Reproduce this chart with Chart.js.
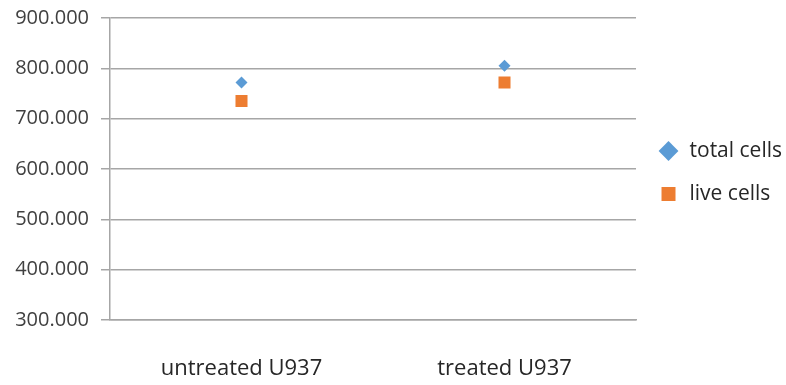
<!DOCTYPE html>
<html>
<head>
<meta charset="utf-8">
<script src="https://cdn.jsdelivr.net/npm/chart.js@4/dist/chart.umd.min.js"></script>
<style>
    html, body { margin: 0; padding: 0; background: #ffffff; }
    #wrap { width: 786px; height: 385px; }
</style>
</head>
<body>
<div id="wrap"><canvas id="grafica"></canvas></div>
<script>
// valores
var categorias = ["untreated U937", "treated U937"];
var totalCells = [772000, 805000];
var liveCells = [735000, 772000];
var yMin = 300000;
var yMax = 900000;
var yPaso = 100000;

var gris = "#a6a6a6";
var fuente = "'Open Sans', sans-serif";

function ceros(v) {
    // 900000 -> 900.000
    return String(v).replace(/\B(?=(\d{3})+(?!\d))/g, ".");
}

// sube un poco la leyenda, como en Excel
var subirLeyenda = {
    id: "subirLeyenda",
    afterLayout: function (chart) {
        chart.legend.top -= 20;
        chart.legend.bottom -= 20;
    }
};

var grafica = new Chart(document.getElementById("grafica"), {
    type: "line",
    data: {
        labels: categorias,
        datasets: [
            {
                label: "total cells",
                data: totalCells,
                showLine: false,
                pointStyle: "rectRot",
                pointRadius: 6,
                pointHoverRadius: 6,
                backgroundColor: "#5b9bd5",
                borderColor: "#5b9bd5",
                borderWidth: 0
            },
            {
                label: "live cells",
                data: liveCells,
                showLine: false,
                pointStyle: "rect",
                pointRadius: 8.5,
                pointHoverRadius: 8.5,
                backgroundColor: "#ed7d31",
                borderColor: "#ed7d31",
                borderWidth: 0
            }
        ]
    },
    plugins: [subirLeyenda],
    options: {
        responsive: true,
        maintainAspectRatio: false,
        animation: false,
        layout: {
            padding: { top: 0, right: -6, bottom: 0, left: 0 }
        },
        plugins: {
            tooltip: { enabled: false },
            legend: {
                position: "right",
                labels: {
                    usePointStyle: true,
                    boxHeight: 14,
                    padding: 22,
                    color: "#262626",
                    font: { family: fuente, size: 21 }
                }
            }
        },
        scales: {
            x: {
                offset: true,
                grid: { display: false, drawTicks: false },
                border: { display: true, color: gris, width: 1.5 },
                ticks: {
                    color: "#262626",
                    padding: 36,
                    maxRotation: 0,
                    font: { family: fuente, size: 22 }
                },
                afterFit: function (scale) { scale.height = 65; }
            },
            y: {
                min: yMin,
                max: yMax,
                grid: { color: gris, lineWidth: 1.5, tickLength: 9 },
                border: { display: true, color: gris, width: 1.5 },
                ticks: {
                    stepSize: yPaso,
                    color: "#404040",
                    padding: 12,
                    font: { family: fuente, size: 20 },
                    callback: function (v) { return ceros(v); }
                },
                afterFit: function (scale) {
                    scale.width = 110;
                    scale.paddingTop = 18;
                }
            }
        }
    }
});
</script>
</body>
</html>
